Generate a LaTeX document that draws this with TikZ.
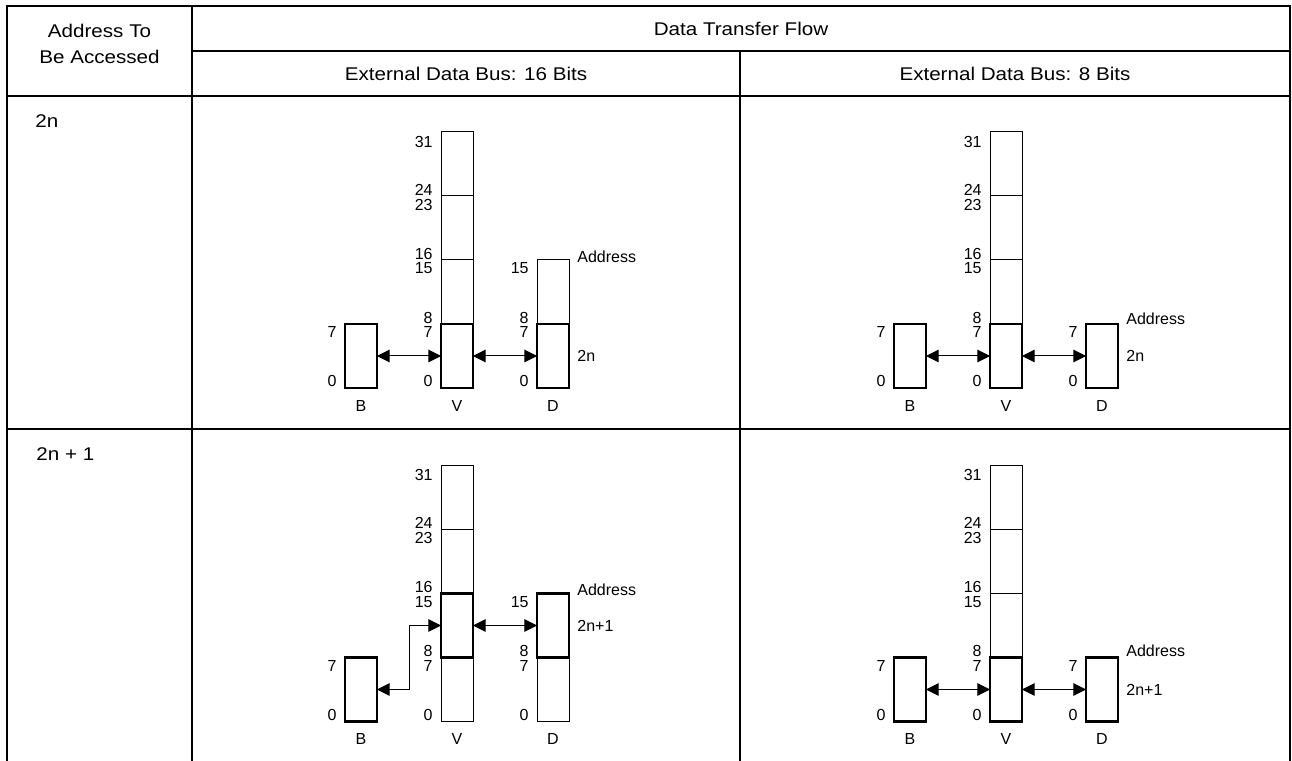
\documentclass[tikz,border=0pt]{standalone}
\usepackage{fontspec}
\setmainfont{Liberation Sans}
\newfontfamily\headfont{Liberation Sans}[FakeStretch=1.12]
\usepackage{tikz}
\usetikzlibrary{positioning,arrows.meta}

\tikzset{
  seg/.style={draw, line width=0.5pt, minimum width=16pt, minimum height=32pt, inner sep=0pt, outer sep=0pt},
  selseg/.style={seg, line width=1.4pt},
  num/.style={anchor=east, inner sep=0pt, font=\fontsize{8}{9}\selectfont},
  txt/.style={inner sep=0pt, font=\fontsize{8}{9}\selectfont},
  head/.style={inner sep=0pt, font=\headfont\fontsize{9.2}{11}\selectfont},
  xfer/.style={{Triangle[length=6.3pt,width=6.3pt]}-{Triangle[length=6.3pt,width=6.3pt]}, line width=0.5pt},
  rule/.style={line width=1pt},
  thickrule/.style={line width=1.4pt},
}

\begin{document}
\begin{tikzpicture}[x=0.5pt, y=0.5pt]
  \useasboundingbox (0,0) rectangle (1292,761);
  % table rules
  \draw[rule] (7,0) -- (7,755) -- (1290,755) -- (1290,0);
  \draw[rule] (192,0) -- (192,755);
  \draw[rule] (740,0) -- (740,710);
  \draw[rule] (192,710) -- (1290,710);
  \draw[thickrule] (7,665) -- (1290,665);
  \draw[thickrule] (7,332) -- (1290,332);
  % headings
  \node[head] (hAddr) at (99.5,730) {Address To};
  \node[head] (hAcc) at (99.5,704) {Be Accessed};
  \node[head] (hFlow) at (741,732.5) {Data Transfer Flow};
  \node[head] (hBus16) at (466,687.5) {External Data Bus: 16 Bits};
  \node[head] (hBus8) at (1015,687.5) {External Data Bus: 8 Bits};
  \node[head, anchor=west] (rEven) at (35,640) {2n};
  \node[head, anchor=west] (rOdd) at (36,307) {2n + 1};

  % 16 bits, address 2n
  \begin{scope}[shift={(457,405)}]
    \node[selseg] (v0a) at (0,0) {};
    \node[seg, above=0pt of v0a] (v1a) {};
    \node[seg, above=0pt of v1a] (v2a) {};
    \node[seg, above=0pt of v2a] (v3a) {};
    \node[selseg] (ba) at (-96,0) {};
    \node[selseg] (d0a) at (96,0) {};
    \node[seg, above=0pt of d0a] (d1a) {};
    \node[num] (a31) at (-24,214.3) {31};
    \node[num] (a24) at (-24,166.2) {24};
    \node[num] (a23) at (-24,151.5) {23};
    \node[num] (a16) at (-24,102.3) {16};
    \node[num] (a15) at (-24,87.5) {15};
    \node[num] (a8) at (-24,38.3) {8};
    \node[num] (a7) at (-24,23.7) {7};
    \node[num] (a0) at (-24,-25.4) {0};
    \node[num] (ab7) at (-120,23.7) {7};
    \node[num] (ab0) at (-120,-25.4) {0};
    \node[num] (ad15) at (72,87.5) {15};
    \node[num] (ad8) at (72,38.3) {8};
    \node[num] (ad7) at (72,23.7) {7};
    \node[num] (ad0) at (72,-25.4) {0};
    \node[txt, below=6pt of ba] (lba) {B};
    \node[txt, below=6pt of v0a] (lva) {V};
    \node[txt, below=6pt of d0a] (lda) {D};
    \node[txt, anchor=west] (adra) at (120,99.5) {Address};
    \node[txt, anchor=west] (vala) at (120,0) {2n};
    \draw[xfer] (ba.east) -- (v0a.west);
    \draw[xfer] (v0a.east) -- (d0a.west);
  \end{scope}

  % 8 bits, address 2n
  \begin{scope}[shift={(1006,405)}]
    \node[selseg] (v0b) at (0,0) {};
    \node[seg, above=0pt of v0b] (v1b) {};
    \node[seg, above=0pt of v1b] (v2b) {};
    \node[seg, above=0pt of v2b] (v3b) {};
    \node[selseg] (bb) at (-96,0) {};
    \node[selseg] (d0b) at (96,0) {};
    \node[num] (b31) at (-24,214.3) {31};
    \node[num] (b24) at (-24,166.2) {24};
    \node[num] (b23) at (-24,151.5) {23};
    \node[num] (b16) at (-24,102.3) {16};
    \node[num] (b15) at (-24,87.5) {15};
    \node[num] (b8) at (-24,38.3) {8};
    \node[num] (b7) at (-24,23.7) {7};
    \node[num] (b0) at (-24,-25.4) {0};
    \node[num] (bb7) at (-120,23.7) {7};
    \node[num] (bb0) at (-120,-25.4) {0};
    \node[num] (bd7) at (72,23.7) {7};
    \node[num] (bd0) at (72,-25.4) {0};
    \node[txt, below=6pt of bb] (lbb) {B};
    \node[txt, below=6pt of v0b] (lvb) {V};
    \node[txt, below=6pt of d0b] (ldb) {D};
    \node[txt, anchor=west] (adrb) at (120,37.7) {Address};
    \node[txt, anchor=west] (valb) at (120,0) {2n};
    \draw[xfer] (bb.east) -- (v0b.west);
    \draw[xfer] (v0b.east) -- (d0b.west);
  \end{scope}

  % 16 bits, address 2n + 1
  \begin{scope}[shift={(457,71.5)}]
    \node[seg] (v0c) at (0,0) {};
    \node[selseg, above=0pt of v0c] (v1c) {};
    \node[seg, above=0pt of v1c] (v2c) {};
    \node[seg, above=0pt of v2c] (v3c) {};
    \node[selseg] (bc) at (-96,0) {};
    \node[seg] (d0c) at (96,0) {};
    \node[selseg, above=0pt of d0c] (d1c) {};
    \node[num] (c31) at (-24,214.3) {31};
    \node[num] (c24) at (-24,166.2) {24};
    \node[num] (c23) at (-24,151.5) {23};
    \node[num] (c16) at (-24,102.3) {16};
    \node[num] (c15) at (-24,87.5) {15};
    \node[num] (c8) at (-24,38.3) {8};
    \node[num] (c7) at (-24,23.7) {7};
    \node[num] (c0) at (-24,-25.4) {0};
    \node[num] (cb7) at (-120,23.7) {7};
    \node[num] (cb0) at (-120,-25.4) {0};
    \node[num] (cd15) at (72,87.5) {15};
    \node[num] (cd8) at (72,38.3) {8};
    \node[num] (cd7) at (72,23.7) {7};
    \node[num] (cd0) at (72,-25.4) {0};
    \node[txt, below=6pt of bc] (lbc) {B};
    \node[txt, below=6pt of v0c] (lvc) {V};
    \node[txt, below=6pt of d0c] (ldc) {D};
    \node[txt, anchor=west] (adrc) at (120,99.5) {Address};
    \node[txt, anchor=west] (valc) at (120,64) {2n+1};
    \coordinate (kc) at (-48,0);
    \draw[xfer] (bc.east) -- (kc) |- (v1c.west);
    \draw[xfer] (v1c.east) -- (d1c.west);
  \end{scope}

  % 8 bits, address 2n + 1
  \begin{scope}[shift={(1006,71.5)}]
    \node[selseg] (v0d) at (0,0) {};
    \node[seg, above=0pt of v0d] (v1d) {};
    \node[seg, above=0pt of v1d] (v2d) {};
    \node[seg, above=0pt of v2d] (v3d) {};
    \node[selseg] (bd) at (-96,0) {};
    \node[selseg] (d0d) at (96,0) {};
    \node[num] (d31) at (-24,214.3) {31};
    \node[num] (d24) at (-24,166.2) {24};
    \node[num] (d23) at (-24,151.5) {23};
    \node[num] (d16) at (-24,102.3) {16};
    \node[num] (d15) at (-24,87.5) {15};
    \node[num] (d8) at (-24,38.3) {8};
    \node[num] (d7) at (-24,23.7) {7};
    \node[num] (d0) at (-24,-25.4) {0};
    \node[num] (db7) at (-120,23.7) {7};
    \node[num] (db0) at (-120,-25.4) {0};
    \node[num] (dd7) at (72,23.7) {7};
    \node[num] (dd0) at (72,-25.4) {0};
    \node[txt, below=6pt of bd] (lbd) {B};
    \node[txt, below=6pt of v0d] (lvd) {V};
    \node[txt, below=6pt of d0d] (ldd) {D};
    \node[txt, anchor=west] (adrd) at (120,38.5) {Address};
    \node[txt, anchor=west] (vald) at (120,0) {2n+1};
    \draw[xfer] (bd.east) -- (v0d.west);
    \draw[xfer] (v0d.east) -- (d0d.west);
  \end{scope}
\end{tikzpicture}
\end{document}
